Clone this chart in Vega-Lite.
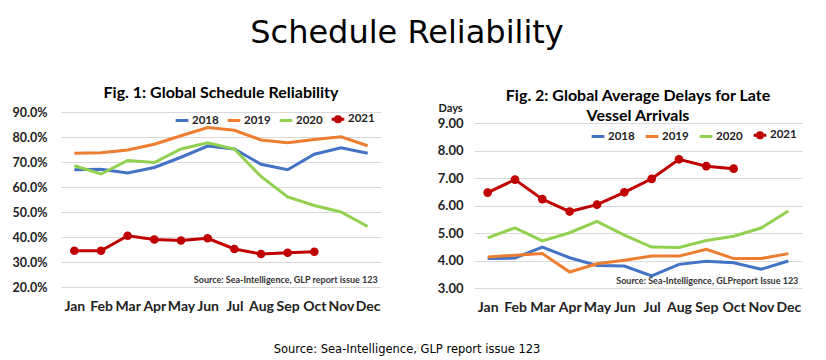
{
  "$schema": "https://vega.github.io/schema/vega-lite/v6.json",
  "background": "white",
  "padding": {"left": 12, "top": 17, "right": 10, "bottom": 0},
  "title": {"text": "Schedule Reliability", "font": "DejaVu Sans", "fontSize": 32, "fontWeight": "normal", "color": "#000000", "anchor": "middle", "offset": 35},
  "datasets": {
    "reliability": [
      {"month": "Jan", "year": "2018", "value": 0.669}, {"month": "Feb", "year": "2018", "value": 0.671}, {"month": "Mar", "year": "2018", "value": 0.656}, {"month": "Apr", "year": "2018", "value": 0.678}, {"month": "May", "year": "2018", "value": 0.719}, {"month": "Jun", "year": "2018", "value": 0.764}, {"month": "Jul", "year": "2018", "value": 0.752}, {"month": "Aug", "year": "2018", "value": 0.691}, {"month": "Sep", "year": "2018", "value": 0.669}, {"month": "Oct", "year": "2018", "value": 0.731}, {"month": "Nov", "year": "2018", "value": 0.757}, {"month": "Dec", "year": "2018", "value": 0.735},
      {"month": "Jan", "year": "2019", "value": 0.735}, {"month": "Feb", "year": "2019", "value": 0.737}, {"month": "Mar", "year": "2019", "value": 0.748}, {"month": "Apr", "year": "2019", "value": 0.771}, {"month": "May", "year": "2019", "value": 0.805}, {"month": "Jun", "year": "2019", "value": 0.838}, {"month": "Jul", "year": "2019", "value": 0.827}, {"month": "Aug", "year": "2019", "value": 0.788}, {"month": "Sep", "year": "2019", "value": 0.777}, {"month": "Oct", "year": "2019", "value": 0.790}, {"month": "Nov", "year": "2019", "value": 0.801}, {"month": "Dec", "year": "2019", "value": 0.765},
      {"month": "Jan", "year": "2020", "value": 0.685}, {"month": "Feb", "year": "2020", "value": 0.652}, {"month": "Mar", "year": "2020", "value": 0.706}, {"month": "Apr", "year": "2020", "value": 0.698}, {"month": "May", "year": "2020", "value": 0.752}, {"month": "Jun", "year": "2020", "value": 0.777}, {"month": "Jul", "year": "2020", "value": 0.752}, {"month": "Aug", "year": "2020", "value": 0.642}, {"month": "Sep", "year": "2020", "value": 0.560}, {"month": "Oct", "year": "2020", "value": 0.526}, {"month": "Nov", "year": "2020", "value": 0.500}, {"month": "Dec", "year": "2020", "value": 0.442},
      {"month": "Jan", "year": "2021", "value": 0.345}, {"month": "Feb", "year": "2021", "value": 0.345}, {"month": "Mar", "year": "2021", "value": 0.405}, {"month": "Apr", "year": "2021", "value": 0.390}, {"month": "May", "year": "2021", "value": 0.386}, {"month": "Jun", "year": "2021", "value": 0.395}, {"month": "Jul", "year": "2021", "value": 0.352}, {"month": "Aug", "year": "2021", "value": 0.332}, {"month": "Sep", "year": "2021", "value": 0.337}, {"month": "Oct", "year": "2021", "value": 0.341}
    ],
    "delays": [
      {"month": "Jan", "year": "2018", "value": 4.07}, {"month": "Feb", "year": "2018", "value": 4.09}, {"month": "Mar", "year": "2018", "value": 4.49}, {"month": "Apr", "year": "2018", "value": 4.10}, {"month": "May", "year": "2018", "value": 3.82}, {"month": "Jun", "year": "2018", "value": 3.80}, {"month": "Jul", "year": "2018", "value": 3.44}, {"month": "Aug", "year": "2018", "value": 3.86}, {"month": "Sep", "year": "2018", "value": 3.97}, {"month": "Oct", "year": "2018", "value": 3.92}, {"month": "Nov", "year": "2018", "value": 3.68}, {"month": "Dec", "year": "2018", "value": 3.98},
      {"month": "Jan", "year": "2019", "value": 4.13}, {"month": "Feb", "year": "2019", "value": 4.19}, {"month": "Mar", "year": "2019", "value": 4.25}, {"month": "Apr", "year": "2019", "value": 3.58}, {"month": "May", "year": "2019", "value": 3.88}, {"month": "Jun", "year": "2019", "value": 4.01}, {"month": "Jul", "year": "2019", "value": 4.16}, {"month": "Aug", "year": "2019", "value": 4.16}, {"month": "Sep", "year": "2019", "value": 4.41}, {"month": "Oct", "year": "2019", "value": 4.07}, {"month": "Nov", "year": "2019", "value": 4.07}, {"month": "Dec", "year": "2019", "value": 4.25},
      {"month": "Jan", "year": "2020", "value": 4.82}, {"month": "Feb", "year": "2020", "value": 5.19}, {"month": "Mar", "year": "2020", "value": 4.71}, {"month": "Apr", "year": "2020", "value": 5.01}, {"month": "May", "year": "2020", "value": 5.42}, {"month": "Jun", "year": "2020", "value": 4.92}, {"month": "Jul", "year": "2020", "value": 4.49}, {"month": "Aug", "year": "2020", "value": 4.47}, {"month": "Sep", "year": "2020", "value": 4.73}, {"month": "Oct", "year": "2020", "value": 4.88}, {"month": "Nov", "year": "2020", "value": 5.18}, {"month": "Dec", "year": "2020", "value": 5.80},
      {"month": "Jan", "year": "2021", "value": 6.47}, {"month": "Feb", "year": "2021", "value": 6.94}, {"month": "Mar", "year": "2021", "value": 6.23}, {"month": "Apr", "year": "2021", "value": 5.78}, {"month": "May", "year": "2021", "value": 6.03}, {"month": "Jun", "year": "2021", "value": 6.48}, {"month": "Jul", "year": "2021", "value": 6.97}, {"month": "Aug", "year": "2021", "value": 7.68}, {"month": "Sep", "year": "2021", "value": 7.43}, {"month": "Oct", "year": "2021", "value": 7.34}
    ]
  },
  "vconcat": [
    {
      "title": {"text": "Source: Sea-Intelligence, GLP report issue 123", "orient": "bottom", "font": "DejaVu Sans", "fontSize": 11.5, "fontWeight": "normal", "color": "#000000", "anchor": "middle", "offset": 30},
      "spacing": 56,
      "hconcat": [
        {
          "width": 320,
          "height": 175,
          "title": {"text": "Fig. 1: Global Schedule Reliability", "font": "Lato", "fontSize": 16, "fontWeight": "bold", "color": "#000000", "anchor": "middle", "offset": 5},
          "data": {"name": "reliability"},
          "encoding": {
            "x": {"field": "month", "type": "ordinal", "sort": ["Jan","Feb","Mar","Apr","May","Jun","Jul","Aug","Sep","Oct","Nov","Dec"], "scale": {"type": "point", "padding": 0.5}, "axis": {"title": null, "labelAngle": 0, "domain": false, "ticks": false, "labelPadding": 12, "labelFont": "Lato", "labelFontSize": 14, "labelFontWeight": "bold", "labelColor": "#222222", "labelOverlap": false}},
            "y": {"field": "value", "type": "quantitative", "scale": {"domain": [0.2, 0.9], "nice": false, "zero": false}, "axis": {"title": null, "format": ".1%", "values": [0.2,0.3,0.4,0.5,0.6,0.7,0.8,0.9], "labelOverlap": false, "domain": false, "ticks": false, "labelPadding": 14, "labelFont": "Lato", "labelFontSize": 12.5, "labelFontWeight": "bold", "labelColor": "#222222", "gridColor": "#d9d9d9", "gridWidth": 1}}
          },
          "layer": [
            {
              "mark": {"type": "line", "strokeWidth": 3},
              "encoding": {
                "color": {"field": "year", "type": "nominal", "scale": {"domain": ["2018","2019","2020","2021"], "range": ["#4472C4","#ED7D31","#92D050","#C00000"]},
                  "legend": {"title": null, "orient": "none", "legendX": 113, "legendY": -1, "direction": "horizontal", "symbolType": "stroke", "symbolSize": 160, "symbolStrokeWidth": 3, "labelFont": "Lato", "labelFontSize": 11.5, "labelFontWeight": "bold", "labelColor": "#222222", "columnPadding": 2, "labelOffset": 2,
                    "encode": {"symbols": {"update": {"shape": {"signal": "datum.value === '2021' ? 'M-1,0L1,0M0.4,0A0.4,0.4,0,1,1,-0.4,0A0.4,0.4,0,1,1,0.4,0Z' : 'stroke'"}, "fill": {"signal": "datum.value === '2021' ? '#C00000' : 'transparent'"}}}}}}
              }
            },
            {
              "transform": [{"filter": "datum.year === '2021'"}],
              "mark": {"type": "point", "filled": true, "size": 75, "color": "#C00000", "opacity": 1}
            },
            {
              "transform": [{"filter": "datum.year === '2021' && datum.month === 'Oct'"}],
              "mark": {"type": "text", "align": "right", "baseline": "bottom", "dx": 10, "dy": -2, "font": "Lato", "fontSize": 9, "fontWeight": "bold", "color": "#333333", "text": "Source: Sea-Intelligence, GLP report issue 123"},
              "encoding": {"x": {"datum": "Dec"}, "y": {"datum": 0.2}}
            }
          ]
        },
        {
          "width": 328,
          "height": 176,
          "title": {"text": ["Fig. 2: Global Average Delays for Late", "Vessel Arrivals"], "font": "Lato", "fontSize": 16, "fontWeight": "bold", "color": "#000000", "anchor": "middle", "offset": -22, "lineHeight": 20},
          "data": {"name": "delays"},
          "encoding": {
            "x": {"field": "month", "type": "ordinal", "sort": ["Jan","Feb","Mar","Apr","May","Jun","Jul","Aug","Sep","Oct","Nov","Dec"], "scale": {"type": "point", "padding": 0.5}, "axis": {"title": null, "labelAngle": 0, "domain": false, "ticks": false, "labelPadding": 12, "labelFont": "Lato", "labelFontSize": 14, "labelFontWeight": "bold", "labelColor": "#222222", "labelOverlap": false}},
            "y": {"field": "value", "type": "quantitative", "scale": {"domain": [3, 9.4], "nice": false, "zero": false}, "axis": {"title": "Days", "titleAngle": 0, "titleAlign": "left", "titleBaseline": "bottom", "titleX": -36, "titleY": 1, "titleFont": "Lato", "titleFontSize": 11, "titleFontWeight": "bold", "titleColor": "#222222", "format": ".2f", "values": [3,4,5,6,7,8,9], "labelOverlap": false, "domain": false, "ticks": false, "labelPadding": 11, "labelFont": "Lato", "labelFontSize": 13, "labelFontWeight": "bold", "labelColor": "#222222", "gridColor": "#d9d9d9", "gridWidth": 1}}
          },
          "layer": [
            {
              "mark": {"type": "line", "strokeWidth": 3},
              "encoding": {
                "color": {"field": "year", "type": "nominal", "scale": {"domain": ["2018","2019","2020","2021"], "range": ["#4472C4","#ED7D31","#92D050","#C00000"]},
                  "legend": {"title": null, "orient": "none", "legendX": 116, "legendY": 15, "direction": "horizontal", "symbolType": "stroke", "symbolSize": 160, "symbolStrokeWidth": 3, "labelFont": "Lato", "labelFontSize": 11.5, "labelFontWeight": "bold", "labelColor": "#222222", "columnPadding": 4, "labelOffset": 2,
                    "encode": {"symbols": {"update": {"shape": {"signal": "datum.value === '2021' ? 'M-1,0L1,0M0.4,0A0.4,0.4,0,1,1,-0.4,0A0.4,0.4,0,1,1,0.4,0Z' : 'stroke'"}, "fill": {"signal": "datum.value === '2021' ? '#C00000' : 'transparent'"}}}}}}
              }
            },
            {
              "transform": [{"filter": "datum.year === '2021'"}],
              "mark": {"type": "point", "filled": true, "size": 75, "color": "#C00000", "opacity": 1}
            },
            {
              "transform": [{"filter": "datum.year === '2021' && datum.month === 'Oct'"}],
              "mark": {"type": "text", "align": "right", "baseline": "bottom", "dx": 10, "dy": -2, "font": "Lato", "fontSize": 9, "fontWeight": "bold", "color": "#333333", "text": "Source: Sea-Intelligence, GLPreport Issue 123"},
              "encoding": {"x": {"datum": "Dec"}, "y": {"datum": 3}}
            }
          ]
        }
      ],
      "resolve": {"scale": {"x": "independent", "y": "independent", "color": "independent"}, "legend": {"color": "independent"}}
    }
  ],
  "config": {"view": {"stroke": null}}
}
